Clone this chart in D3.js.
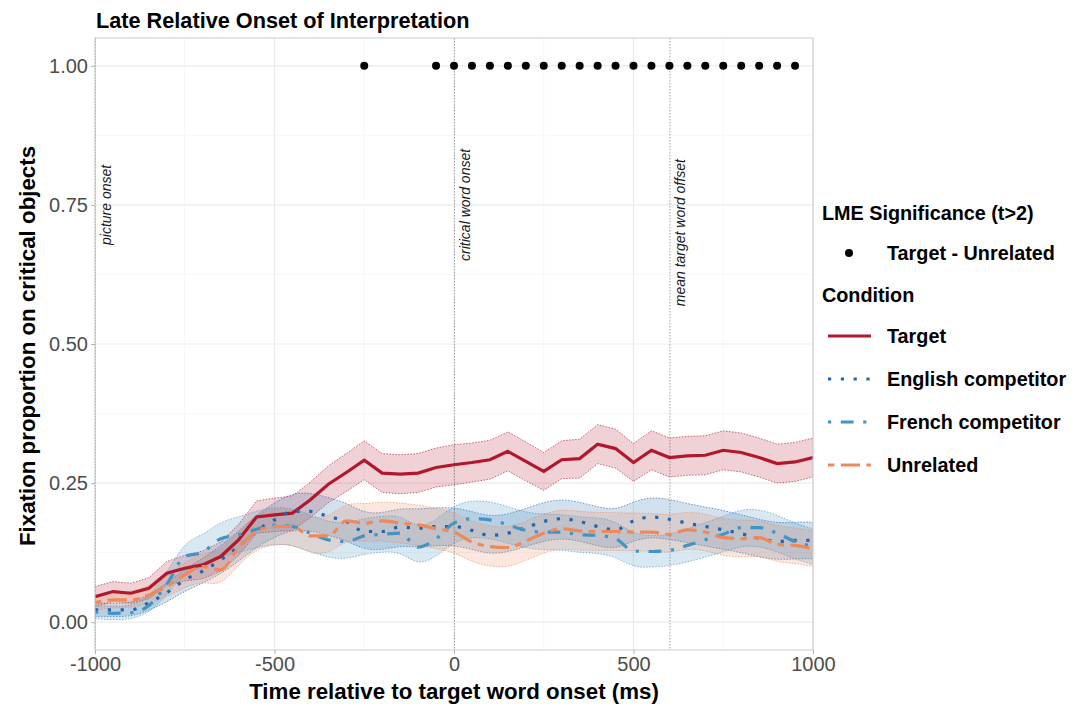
<!DOCTYPE html>
<html>
<head>
<meta charset="utf-8">
<script src="https://cdn.jsdelivr.net/npm/d3@7"></script>
<style>
  body { margin: 0; background: #fff; }
  svg { font-family: "Liberation Sans", Arial, sans-serif; }
</style>
</head>
<body>
<script>
// time bins (ms relative to target word onset)
const times = [-1000, -950, -900, -850, -800, -750, -700, -650, -600, -550, -500, -450, -400, -350, -300, -250, -200, -150, -100, -50,
               0, 50, 100, 150, 200, 250, 300, 350, 400, 450, 500, 550, 600, 650, 700, 750, 800, 850, 900, 950, 1000];

const conditions = ['Target', 'English competitor', 'French competitor', 'Unrelated'];

// mean fixation proportions per condition
const targetMean = [0.046, 0.055, 0.052, 0.061, 0.088, 0.097, 0.103, 0.118, 0.148, 0.189, 0.193, 0.196, 0.220, 0.248, 0.269, 0.291, 0.268, 0.266, 0.268, 0.278,
                    0.283, 0.287, 0.292, 0.307, 0.289, 0.271, 0.292, 0.294, 0.320, 0.312, 0.287, 0.309, 0.296, 0.299, 0.300, 0.309, 0.305, 0.296, 0.285, 0.288, 0.296];
const englishMean = [0.022, 0.022, 0.022, 0.035, 0.053, 0.076, 0.092, 0.112, 0.136, 0.164, 0.184, 0.199, 0.199, 0.190, 0.181, 0.163, 0.163, 0.171, 0.169, 0.172,
                     0.172, 0.165, 0.156, 0.160, 0.170, 0.181, 0.186, 0.181, 0.172, 0.166, 0.182, 0.189, 0.185, 0.178, 0.172, 0.166, 0.159, 0.151, 0.145, 0.147, 0.147];
const frenchMean = [0.018, 0.016, 0.017, 0.030, 0.068, 0.118, 0.126, 0.150, 0.157, 0.167, 0.174, 0.172, 0.160, 0.148, 0.145, 0.155, 0.158, 0.160, 0.135, 0.150,
                    0.178, 0.186, 0.184, 0.175, 0.165, 0.162, 0.162, 0.157, 0.156, 0.150, 0.128, 0.127, 0.129, 0.138, 0.148, 0.158, 0.170, 0.170, 0.160, 0.145, 0.136];
const unrelatedMean = [0.035, 0.040, 0.040, 0.049, 0.064, 0.085, 0.100, 0.094, 0.134, 0.163, 0.172, 0.172, 0.155, 0.155, 0.182, 0.178, 0.182, 0.178, 0.175, 0.168,
                       0.162, 0.144, 0.136, 0.134, 0.146, 0.160, 0.168, 0.164, 0.163, 0.163, 0.162, 0.162, 0.158, 0.166, 0.162, 0.152, 0.150, 0.152, 0.140, 0.138, 0.132];

// half widths of the confidence bands
const targetCI = [0.018, 0.018, 0.018, 0.019, 0.021, 0.023, 0.025, 0.026, 0.028, 0.029, 0.030, 0.031, 0.032, 0.033, 0.034, 0.035, 0.035, 0.035, 0.035, 0.035,
                  0.036, 0.035, 0.035, 0.035, 0.035, 0.034, 0.034, 0.035, 0.035, 0.035, 0.034, 0.035, 0.035, 0.035, 0.035, 0.035, 0.035, 0.035, 0.035, 0.035, 0.035];
const englishCI = [0.012, 0.012, 0.012, 0.014, 0.017, 0.020, 0.022, 0.025, 0.027, 0.029, 0.031, 0.033, 0.034, 0.034, 0.034, 0.033, 0.033, 0.034, 0.034, 0.034,
                   0.034, 0.034, 0.034, 0.034, 0.034, 0.035, 0.035, 0.035, 0.035, 0.035, 0.035, 0.036, 0.036, 0.035, 0.035, 0.035, 0.034, 0.034, 0.033, 0.033, 0.033];
const frenchCI = [0.012, 0.012, 0.012, 0.014, 0.020, 0.027, 0.030, 0.031, 0.032, 0.033, 0.033, 0.033, 0.033, 0.032, 0.032, 0.032, 0.032, 0.033, 0.033, 0.033,
                  0.033, 0.033, 0.033, 0.033, 0.032, 0.032, 0.032, 0.032, 0.032, 0.032, 0.030, 0.028, 0.028, 0.030, 0.031, 0.032, 0.033, 0.033, 0.033, 0.032, 0.032];
const unrelatedCI = [0.013, 0.014, 0.014, 0.016, 0.018, 0.022, 0.026, 0.030, 0.030, 0.031, 0.032, 0.032, 0.032, 0.033, 0.033, 0.034, 0.035, 0.036, 0.036, 0.036,
                     0.036, 0.036, 0.036, 0.036, 0.035, 0.035, 0.035, 0.035, 0.034, 0.034, 0.034, 0.034, 0.034, 0.033, 0.033, 0.033, 0.033, 0.032, 0.032, 0.032, 0.032];

// bins where Target - Unrelated was significant (t > 2)
const sigTimes = [-250, -50, 0, 50, 100, 150, 200, 250, 300, 350, 400, 450, 500, 550, 600, 650, 700, 750, 800, 850, 900, 950];

// reference lines
const refTimes = [-1000, 0, 600];
const refLabels = ['picture onset', 'critical word onset', 'mean target word offset'];
const refLabelY = [0.75, 0.75, 0.70];

const xTicks = [-1000, -500, 0, 500, 1000];
const yTicks = [0, 0.25, 0.5, 0.75, 1];

const width = 1075, height = 709;
const colors = ['#b2182b', '#2166ac', '#4393c3', '#f0895a'];
const dashes = ['none', '3.2,9.6', '3.2,9.6,12.8,9.6', '6.4,6.4,19.2,6.4'];

const series = [
  {name: conditions[0], mean: targetMean, ci: targetCI, curve: d3.curveLinear},
  {name: conditions[1], mean: englishMean, ci: englishCI, curve: d3.curveBasis},
  {name: conditions[2], mean: frenchMean, ci: frenchCI, curve: d3.curveBasis},
  {name: conditions[3], mean: unrelatedMean, ci: unrelatedCI, curve: d3.curveBasis}
].map((s, i) => ({...s, color: colors[i], dash: dashes[i],
  pts: times.map((t, j) => ({t: t, m: s.mean[j], lo: s.mean[j] - s.ci[j], hi: s.mean[j] + s.ci[j]}))}));

const x = d3.scaleLinear().domain([-1000, 1000]).range([95, 813]);
const y = d3.scaleLinear().domain([-0.05, 1.05]).range([650, 38]);

const svg = d3.select('body').append('svg')
  .attr('width', width)
  .attr('height', height);

svg.append('defs').append('clipPath').attr('id', 'panel')
  .append('rect').attr('x', 95).attr('y', 38).attr('width', 718).attr('height', 612);

// grid
const grid = svg.append('g');
grid.selectAll('.ymin').data([0.125, 0.375, 0.625, 0.875]).enter().append('line')
  .attr('x1', 95).attr('x2', 813).attr('y1', d => y(d)).attr('y2', d => y(d))
  .attr('stroke', '#f3f3f3').attr('stroke-width', 0.7);
grid.selectAll('.xmin').data([-750, -250, 250, 750]).enter().append('line')
  .attr('y1', 38).attr('y2', 650).attr('x1', d => x(d)).attr('x2', d => x(d))
  .attr('stroke', '#f3f3f3').attr('stroke-width', 0.7);
grid.selectAll('.ymaj').data(yTicks).enter().append('line')
  .attr('x1', 95).attr('x2', 813).attr('y1', d => y(d)).attr('y2', d => y(d))
  .attr('stroke', '#ebebeb').attr('stroke-width', 1.2);
grid.selectAll('.xmaj').data(xTicks).enter().append('line')
  .attr('y1', 38).attr('y2', 650).attr('x1', d => x(d)).attr('x2', d => x(d))
  .attr('stroke', '#ebebeb').attr('stroke-width', 1.2);

const plot = svg.append('g').attr('clip-path', 'url(#panel)');

// reference lines
plot.selectAll('.ref').data(refTimes).enter().append('line')
  .attr('x1', d => x(d) + 0.5).attr('x2', d => x(d) + 0.5).attr('y1', 38).attr('y2', 650)
  .attr('stroke', '#9a9a9a').attr('stroke-width', 0.9).attr('stroke-dasharray', '1.5,1.5');

// ribbons
series.forEach(s => {
  const area = d3.area().curve(s.curve)
    .x(d => x(d.t)).y0(d => y(d.lo)).y1(d => y(d.hi));
  plot.append('path').datum(s.pts)
    .attr('d', area)
    .attr('fill', s.color).attr('fill-opacity', 0.2).attr('stroke', 'none');
  ['lo', 'hi'].forEach(k => {
    plot.append('path').datum(s.pts)
      .attr('d', d3.line().curve(s.curve).x(d => x(d.t)).y(d => y(d[k])))
      .attr('fill', 'none').attr('stroke', s.color).attr('stroke-width', 0.8)
      .attr('stroke-opacity', 0.8).attr('stroke-dasharray', '1.5,1.5');
  });
});

// mean lines
series.forEach(s => {
  plot.append('path').datum(s.pts)
    .attr('d', d3.line().curve(s.curve === d3.curveLinear ? d3.curveLinear : d3.curveMonotoneX)
      .x(d => x(d.t)).y(d => y(d.m)))
    .attr('fill', 'none').attr('stroke', s.color).attr('stroke-width', 3.2)
    .attr('stroke-dasharray', s.dash);
});

// significance dots
plot.selectAll('.sig').data(sigTimes).enter().append('circle')
  .attr('cx', d => x(d)).attr('cy', y(1)).attr('r', 4).attr('fill', '#000');

// reference labels
svg.selectAll('.reflab').data(refTimes).enter().append('text')
  .attr('transform', (d, i) => `translate(${x(d) + 11},${y(refLabelY[i])}) rotate(-90)`)
  .attr('text-anchor', 'middle').attr('dy', '0.35em')
  .style('font-size', '14px').style('font-style', 'italic').attr('fill', '#1a1a1a')
  .text((d, i) => refLabels[i]);

// panel border
svg.append('rect').attr('x', 95).attr('y', 38).attr('width', 718).attr('height', 612)
  .attr('fill', 'none').attr('stroke', '#cccccc').attr('stroke-width', 1);

// axes
const xAxis = svg.append('g').attr('transform', 'translate(0,650)')
  .call(d3.axisBottom(x).tickValues(xTicks).tickSize(4).tickPadding(3).tickFormat(d => String(d)));
const yAxis = svg.append('g').attr('transform', 'translate(95,0)')
  .call(d3.axisLeft(y).tickValues(yTicks).tickSize(4).tickPadding(3).tickFormat(d3.format('.2f')));
[xAxis, yAxis].forEach(a => {
  a.select('.domain').remove();
  a.selectAll('.tick line').attr('stroke', '#b3b3b3');
  a.selectAll('.tick text').attr('fill', '#4d4d4d').style('font-size', '20px')
    .style('font-family', '"Liberation Sans", Arial, sans-serif');
});

// titles
svg.append('text').attr('x', 96).attr('y', 28)
  .style('font-size', '21.7px').style('font-weight', 'bold').text('Late Relative Onset of Interpretation');
svg.append('text').attr('x', 454).attr('y', 699).attr('text-anchor', 'middle')
  .style('font-size', '22.3px').style('font-weight', 'bold').text('Time relative to target word onset (ms)');
svg.append('text').attr('transform', 'translate(35,346) rotate(-90)').attr('text-anchor', 'middle')
  .style('font-size', '22.3px').style('font-weight', 'bold').text('Fixation proportion on critical objects');

// legend
const legend = svg.append('g');
legend.append('text').attr('x', 822).attr('y', 220)
  .style('font-size', '19.8px').style('font-weight', 'bold').text('LME Significance (t>2)');
legend.append('circle').attr('cx', 849).attr('cy', 253).attr('r', 4).attr('fill', '#000');
legend.append('text').attr('x', 887).attr('y', 260)
  .style('font-size', '19.8px').style('font-weight', 'bold').text('Target - Unrelated');
legend.append('text').attr('x', 822).attr('y', 302)
  .style('font-size', '19.8px').style('font-weight', 'bold').text('Condition');

const keyY = d3.scalePoint().domain(conditions).range([336, 465]);
const keys = legend.selectAll('.key').data(series).enter().append('g');
keys.append('line')
  .attr('x1', 828).attr('x2', 871).attr('y1', d => keyY(d.name)).attr('y2', d => keyY(d.name))
  .attr('stroke', d => d.color).attr('stroke-width', 3.2).attr('stroke-dasharray', d => d.dash);
keys.append('text').attr('x', 887).attr('y', d => keyY(d.name) + 7)
  .style('font-size', '19.8px').style('font-weight', 'bold').text(d => d.name);
</script>
</body>
</html>
